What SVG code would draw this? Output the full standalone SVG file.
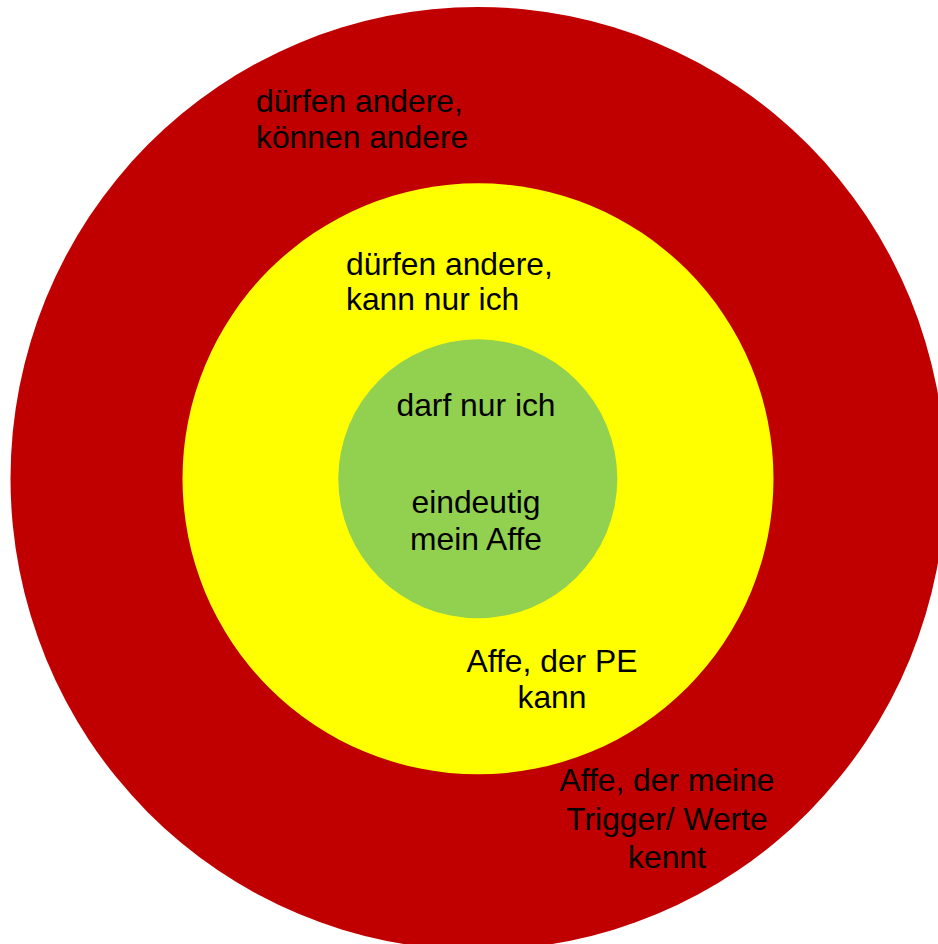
<svg xmlns="http://www.w3.org/2000/svg" width="938" height="944" viewBox="0 0 938 944">
<style>
text{font-family:"Liberation Sans",Arial,sans-serif;font-size:31.8px;fill:#000}
.m{text-anchor:middle}
</style>
<rect width="938" height="944" fill="#fff"/>
<g id="outer"><ellipse cx="478" cy="478.5" rx="467.5" ry="471.5" fill="#C00000"/>
<text x="256" y="112">dürfen andere,</text>
<text x="256" y="148">können andere</text>
<text class="m" x="667" y="791">Affe, der meine</text>
<text class="m" x="667" y="830">Trigger/ Werte</text>
<text class="m" x="667" y="868">kennt</text>
</g>
<g id="middle"><circle cx="478" cy="478.8" r="295.5" fill="#FFFF00"/>
<text x="346" y="275">dürfen andere,</text>
<text x="346" y="310">kann nur ich</text>
<text class="m" x="552" y="672">Affe, der PE</text>
<text class="m" x="552" y="708">kann</text>
</g>
<g id="inner"><circle cx="477.8" cy="478.8" r="139.5" fill="#92D050"/>
<text class="m" x="476" y="416">darf nur ich</text>
<text class="m" x="476" y="513">eindeutig</text>
<text class="m" x="476" y="550">mein Affe</text>
</g>
<g id="connectors"/>
</svg>
